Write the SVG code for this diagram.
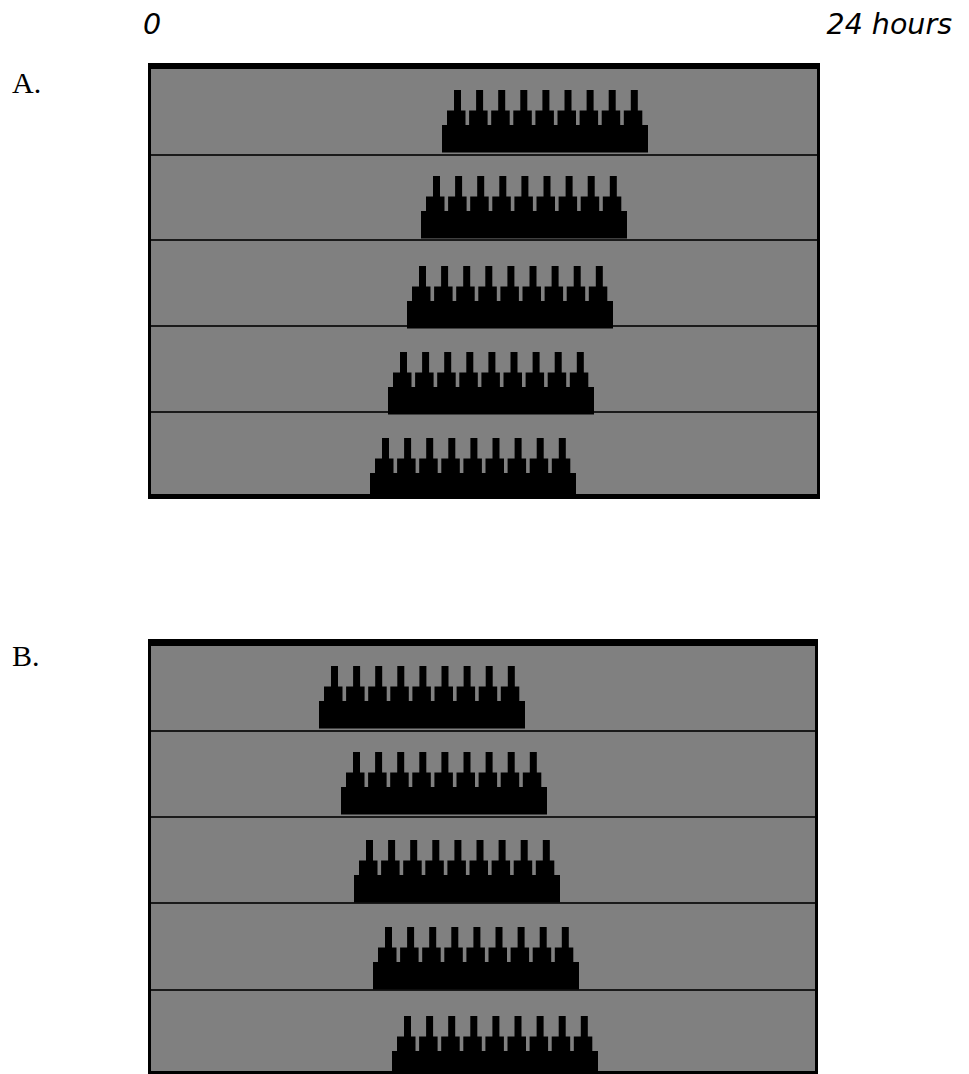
<svg xmlns="http://www.w3.org/2000/svg" xmlns:xlink="http://www.w3.org/1999/xlink" width="969" height="1074" viewBox="0 0 969 1074">
<style>
.axis{font-family:"DejaVu Sans","Liberation Sans",sans-serif;font-style:oblique;font-size:28.5px;fill:#000}
.lbl{font-family:"Liberation Serif","Times New Roman",serif;font-size:30px;fill:#000}
.frame{fill:#000}
.field{fill:#808080}
.div{stroke:#1a1a1a;stroke-width:2}
.bar{fill:#000}
</style>
<defs>
<g id="bar" class="bar">
<rect x="0" y="35" width="206" height="27.5"/>
<rect x="5" y="20.5" width="18.5" height="15"/><rect x="27.1" y="20.5" width="18.5" height="15"/><rect x="49.2" y="20.5" width="18.5" height="15"/><rect x="71.3" y="20.5" width="18.5" height="15"/><rect x="93.4" y="20.5" width="18.5" height="15"/><rect x="115.5" y="20.5" width="18.5" height="15"/><rect x="137.6" y="20.5" width="18.5" height="15"/><rect x="159.7" y="20.5" width="18.5" height="15"/><rect x="181.8" y="20.5" width="18.5" height="15"/>
<rect x="12" y="0" width="7" height="21"/><rect x="34.1" y="0" width="7" height="21"/><rect x="56.2" y="0" width="7" height="21"/><rect x="78.3" y="0" width="7" height="21"/><rect x="100.4" y="0" width="7" height="21"/><rect x="122.5" y="0" width="7" height="21"/><rect x="144.6" y="0" width="7" height="21"/><rect x="166.7" y="0" width="7" height="21"/><rect x="188.8" y="0" width="7" height="21"/>
</g>
<clipPath id="clipA"><rect x="148" y="63" width="672" height="436"/></clipPath>
<clipPath id="clipB"><rect x="148" y="639" width="670" height="435"/></clipPath>
</defs>
<g id="axis-labels">
<text class="axis" x="143" y="34">0</text>
<text class="axis" x="952" y="34" text-anchor="end">24 hours</text>
</g>
<g id="panel-a">
<text class="lbl" x="12" y="93">A.</text>
<rect class="frame" x="148" y="63" width="672" height="436"/>
<rect class="field" x="151" y="69" width="666" height="425"/>
<g id="a-dividers">
<line class="div" x1="151" y1="155" x2="817" y2="155"/>
<line class="div" x1="151" y1="240" x2="817" y2="240"/>
<line class="div" x1="151" y1="326" x2="817" y2="326"/>
<line class="div" x1="151" y1="412" x2="817" y2="412"/>
</g>
<g clip-path="url(#clipA)">
<g id="a-row1"><use xlink:href="#bar" x="442" y="90"/></g>
<g id="a-row2"><use xlink:href="#bar" x="421" y="176"/></g>
<g id="a-row3"><use xlink:href="#bar" x="407" y="266"/></g>
<g id="a-row4"><use xlink:href="#bar" x="388" y="352"/></g>
<g id="a-row5"><use xlink:href="#bar" x="370" y="438"/></g>
</g>
</g>
<g id="panel-b">
<text class="lbl" x="12" y="666">B.</text>
<rect class="frame" x="148" y="639" width="670" height="435"/>
<rect class="field" x="151" y="646" width="664" height="425"/>
<g id="b-dividers">
<line class="div" x1="151" y1="731" x2="815" y2="731"/>
<line class="div" x1="151" y1="817" x2="815" y2="817"/>
<line class="div" x1="151" y1="903" x2="815" y2="903"/>
<line class="div" x1="151" y1="990" x2="815" y2="990"/>
</g>
<g clip-path="url(#clipB)">
<g id="b-row1"><use xlink:href="#bar" x="319" y="666"/></g>
<g id="b-row2"><use xlink:href="#bar" x="341" y="752"/></g>
<g id="b-row3"><use xlink:href="#bar" x="354" y="840"/></g>
<g id="b-row4"><use xlink:href="#bar" x="373" y="927"/></g>
<g id="b-row5"><use xlink:href="#bar" x="392" y="1016"/></g>
</g>
</g>
</svg>
